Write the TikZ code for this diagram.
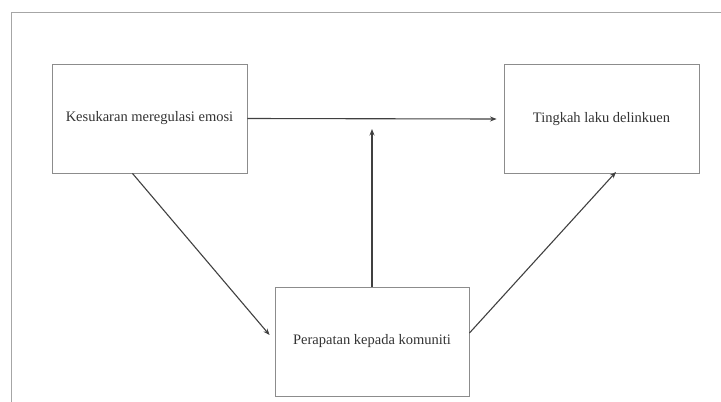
\documentclass[tikz,border=0pt]{standalone}
\usepackage{fontspec}
\setmainfont{Liberation Serif}
\usetikzlibrary{arrows.meta}
\begin{document}
\begin{tikzpicture}[x=1pt,y=-1pt,
  boxst/.style={draw=black!45, line width=0.9pt, minimum width=195pt, minimum height=109pt, inner sep=0pt, font=\fontsize{14.5}{17}\selectfont, text=black!80},
  conn/.style={draw=black!75, line width=1.1pt, -{Stealth[length=6.5pt,width=5pt]}},
  framest/.style={draw=black!35, line width=1pt}]
\useasboundingbox (0,0) rectangle (721,402);
\draw[framest] (11,402) -- (11,12) -- (721,12);
\node[boxst] (b1) at (149.5,118.5) {Kesukaran meregulasi emosi};
\node[boxst] (b2) at (601.5,119) {Tingkah laku delinkuen};
\node[boxst, minimum width=194pt] (b3) at (372,341.5) {Perapatan kepada komuniti};
\coordinate (vtop) at (372,129);
\draw[conn] (b1.east) -- ([xshift=-7pt]b2.west);
\draw[conn] (b3.north) -- (vtop);
\draw[conn] ([xshift=-17pt]b1.south) -- ([xshift=-5pt,yshift=6.5pt]b3.west);
\draw[conn] ([yshift=8.5pt]b3.east) -- ([xshift=14.5pt,yshift=2pt]b2.south);
\end{tikzpicture}
\end{document}
